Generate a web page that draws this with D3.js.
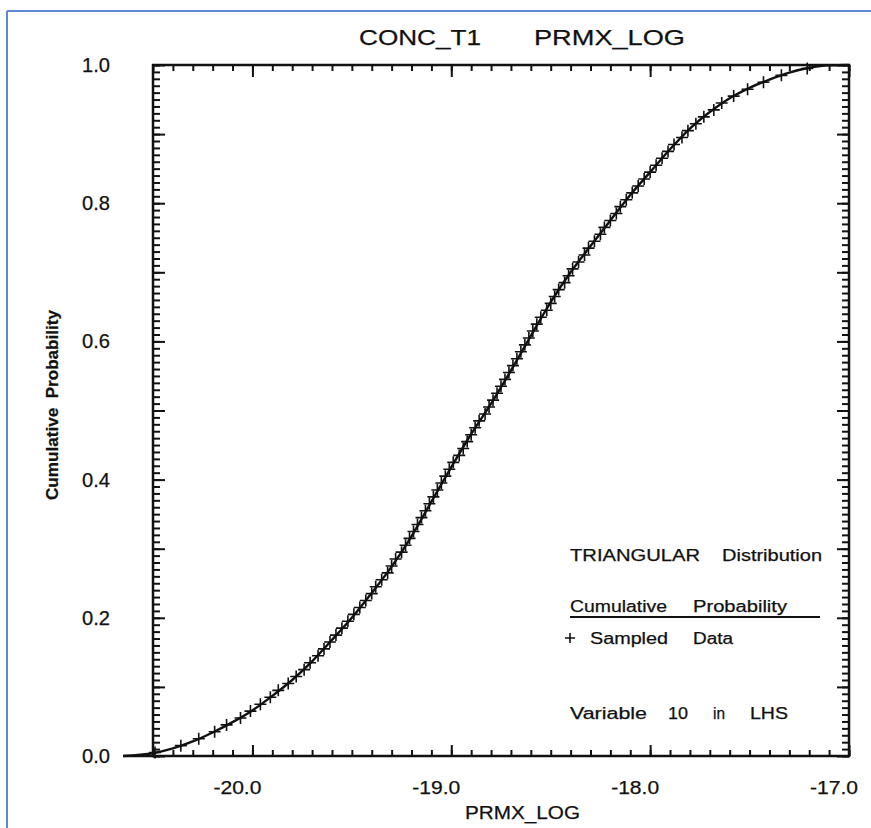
<!DOCTYPE html>
<html>
<head>
<meta charset="utf-8">
<script src="https://cdn.jsdelivr.net/npm/d3@7"></script>
<style>
  html, body { margin: 0; padding: 0; background: #fff; }
  svg { display: block; }
  text { font-family: "Liberation Sans", Arial, Helvetica, sans-serif; fill: #111; stroke: #111; stroke-width: 0.25px; }
</style>
</head>
<body>
<div id="chart"></div>
<script>
// ---- chart data ----
const titleWords = ["CONC_T1", "PRMX_LOG"];
const xAxisTitle = "PRMX_LOG";
const yAxisTitle = "Cumulative  Probability";
const xDomain = [-20.5, -17.0];
const yDomain = [0, 1];
const xMajorTicks = [-20, -19, -18, -17];
const xTickLabels = ["-20.0", "-19.0", "-18.0", "-17.0"];
const yLabelTicks = [0, 0.2, 0.4, 0.6, 0.8, 1.0];
const yTickLabels = ["0.0", "0.2", "0.4", "0.6", "0.8", "1.0"];

// cumulative probability curve of the triangular distribution
const curveX = [-20.65, -20.5, -20.4, -20.3, -20.2, -20.1, -20.0, -19.9, -19.8, -19.7, -19.6,
  -19.5, -19.4, -19.3, -19.2, -19.1, -19.0, -18.9, -18.8, -18.7, -18.6, -18.5, -18.4, -18.3,
  -18.2, -18.1, -18.0, -17.9, -17.8, -17.7, -17.6, -17.5, -17.4, -17.3, -17.2, -17.1, -17.0];
const curveP = [0.000, 0.004, 0.011, 0.021, 0.034, 0.049, 0.066, 0.087, 0.110, 0.137, 0.168,
  0.200, 0.236, 0.274, 0.318, 0.368, 0.418, 0.466, 0.510, 0.558, 0.608, 0.657, 0.700, 0.738,
  0.775, 0.812, 0.845, 0.878, 0.908, 0.932, 0.952, 0.967, 0.979, 0.989, 0.996, 0.9995, 1.000];

// LHS sampled values (sorted) and their cumulative probability
const sampleX = [-20.49, -20.36, -20.27, -20.19, -20.13, -20.06, -20.01, -19.96, -19.91, -19.87,
  -19.82, -19.78, -19.74, -19.71, -19.67, -19.64, -19.61, -19.58, -19.55, -19.52,
  -19.49, -19.46, -19.43, -19.40, -19.38, -19.35, -19.32, -19.30, -19.28, -19.25,
  -19.23, -19.21, -19.19, -19.17, -19.15, -19.13, -19.11, -19.09, -19.07, -19.05,
  -19.03, -19.01, -18.99, -18.96, -18.94, -18.92, -18.90, -18.88, -18.86, -18.83,
  -18.81, -18.79, -18.77, -18.75, -18.73, -18.71, -18.69, -18.67, -18.65, -18.63,
  -18.61, -18.59, -18.57, -18.55, -18.52, -18.50, -18.48, -18.46, -18.43, -18.41,
  -18.39, -18.36, -18.33, -18.31, -18.28, -18.25, -18.23, -18.20, -18.17, -18.15,
  -18.12, -18.09, -18.06, -18.03, -18.00, -17.97, -17.94, -17.91, -17.88, -17.84,
  -17.81, -17.77, -17.73, -17.68, -17.64, -17.58, -17.51, -17.43, -17.34, -17.21];
const sampleP = [0.005, 0.015, 0.025, 0.035, 0.045, 0.055, 0.065, 0.075, 0.085, 0.095,
  0.105, 0.115, 0.125, 0.135, 0.145, 0.155, 0.165, 0.175, 0.185, 0.195,
  0.205, 0.215, 0.225, 0.235, 0.245, 0.255, 0.265, 0.275, 0.285, 0.295,
  0.305, 0.315, 0.325, 0.335, 0.345, 0.355, 0.365, 0.375, 0.385, 0.395,
  0.405, 0.415, 0.425, 0.435, 0.445, 0.455, 0.465, 0.475, 0.485, 0.495,
  0.505, 0.515, 0.525, 0.535, 0.545, 0.555, 0.565, 0.575, 0.585, 0.595,
  0.605, 0.615, 0.625, 0.635, 0.645, 0.655, 0.665, 0.675, 0.685, 0.695,
  0.705, 0.715, 0.725, 0.735, 0.745, 0.755, 0.765, 0.775, 0.785, 0.795,
  0.805, 0.815, 0.825, 0.835, 0.845, 0.855, 0.865, 0.875, 0.885, 0.895,
  0.905, 0.915, 0.925, 0.935, 0.945, 0.955, 0.965, 0.975, 0.985, 0.995];

// legend / annotation words
const legendTitle = ["TRIANGULAR", "Distribution"];
const legendLine = ["Cumulative", "Probability"];
const legendMarker = ["Sampled", "Data"];
const legendNote = ["Variable", "10", "in", "LHS"];

// ---- layout ----
const W = 871, H = 828;
const plot = { left: 153, right: 849, top: 65, bottom: 756 };
const ink = "#111";

const svg = d3.select("#chart").append("svg")
  .attr("width", W).attr("height", H).attr("viewBox", `0 0 ${W} ${H}`);

// page border
svg.append("line").attr("x1", 7).attr("y1", 11).attr("x2", W).attr("y2", 11)
  .attr("stroke", "#5b8ad0").attr("stroke-width", 2);
svg.append("line").attr("x1", 7).attr("y1", 11).attr("x2", 7).attr("y2", H)
  .attr("stroke", "#5b8ad0").attr("stroke-width", 2);

const x = d3.scaleLinear().domain(xDomain).range([plot.left, plot.right]);
const y = d3.scaleLinear().domain(yDomain).range([plot.bottom, plot.top]);

// text fitted to a given width
function word(g, s, px, py, size, len, anchor, weight) {
  const t = g.append("text").attr("x", px).attr("y", py)
    .attr("font-size", size).attr("text-anchor", anchor || "start")
    .text(s);
  if (len) t.attr("textLength", len).attr("lengthAdjust", "spacingAndGlyphs");
  if (weight) t.attr("font-weight", weight);
  return t;
}

const minorX = d3.range(-205, -169, 1).map(v => v / 10);
const minorY = d3.range(0, 101, 1).map(v => v / 100);
const tenthY = d3.range(0, 11, 1).map(v => v / 10);

function styleAxis(w) {
  return g => {
    g.select(".domain").remove();
    g.selectAll(".tick line").attr("stroke", ink).attr("stroke-width", w);
  };
}

// bottom axis (ticks point inward)
svg.append("g").attr("transform", `translate(0,${plot.bottom})`)
  .call(d3.axisBottom(x).tickValues(minorX).tickSize(-6).tickFormat("")).call(styleAxis(2));
svg.append("g").attr("transform", `translate(0,${plot.bottom})`)
  .call(d3.axisBottom(x).tickValues(xMajorTicks).tickSize(-11).tickFormat("")).call(styleAxis(2));
// top axis
svg.append("g").attr("transform", `translate(0,${plot.top})`)
  .call(d3.axisTop(x).tickValues(minorX).tickSize(-6).tickFormat("")).call(styleAxis(2));
svg.append("g").attr("transform", `translate(0,${plot.top})`)
  .call(d3.axisTop(x).tickValues(xMajorTicks).tickSize(-12).tickFormat("")).call(styleAxis(2));
// left axis
svg.append("g").attr("transform", `translate(${plot.left},0)`)
  .call(d3.axisLeft(y).tickValues(minorY).tickSize(-7).tickFormat("")).call(styleAxis(2));
svg.append("g").attr("transform", `translate(${plot.left},0)`)
  .call(d3.axisLeft(y).tickValues(tenthY).tickSize(-12).tickFormat("")).call(styleAxis(2));
// right axis
svg.append("g").attr("transform", `translate(${plot.right},0)`)
  .call(d3.axisRight(y).tickValues(minorY).tickSize(-7).tickFormat("")).call(styleAxis(2));
svg.append("g").attr("transform", `translate(${plot.right},0)`)
  .call(d3.axisRight(y).tickValues(tenthY).tickSize(-12).tickFormat("")).call(styleAxis(2));

// frame
svg.append("rect").attr("x", plot.left).attr("y", plot.top)
  .attr("width", plot.right - plot.left).attr("height", plot.bottom - plot.top)
  .attr("fill", "none").attr("stroke", ink).attr("stroke-width", 2.5);
// baseline extends left of the frame
svg.append("line").attr("x1", x(-20.65)).attr("x2", plot.left)
  .attr("y1", y(0)).attr("y2", y(0)).attr("stroke", ink).attr("stroke-width", 2.5);

// tick labels
const labels = svg.append("g");
xMajorTicks.forEach((v, i) => word(labels, xTickLabels[i], x(v) - 15, 794, 19, 48, "middle"));
yLabelTicks.forEach((v, i) => word(labels, yTickLabels[i], 110, y(v) + 7, 20, 28, "end"));

// titles
word(svg, titleWords[0], 359, 45, 22, 122, "start");
word(svg, titleWords[1], 534, 45, 22, 151, "start");
word(svg, xAxisTitle, 465, 819, 18, 115, "start");
svg.append("text").attr("transform", "translate(58,405) rotate(-90)")
  .attr("text-anchor", "middle").attr("font-size", 17).attr("font-weight", "bold")
  .attr("textLength", 190).attr("lengthAdjust", "spacingAndGlyphs")
  .style("white-space", "pre").text(yAxisTitle);

// curve
const pts = curveX.map((v, i) => [v, curveP[i]]);
svg.append("path").datum(pts)
  .attr("d", d3.line().x(d => x(d[0])).y(d => y(d[1])).curve(d3.curveMonotoneX))
  .attr("fill", "none").attr("stroke", ink).attr("stroke-width", 2.4);

// sampled data markers
const mk = svg.append("g");
sampleX.forEach((v, i) => {
  const cx = x(v), cy = y(sampleP[i]);
  mk.append("path").attr("d", `M${cx - 6},${cy}H${cx + 6}M${cx},${cy - 6}V${cy + 6}`)
    .attr("stroke", ink).attr("stroke-width", 1.6).attr("fill", "none");
});

// legend block
const lg = svg.append("g");
word(lg, legendTitle[0], 570, 561, 16, 130);
word(lg, legendTitle[1], 722, 561, 16, 100);
word(lg, legendLine[0], 570, 612, 16, 97);
word(lg, legendLine[1], 693, 612, 16, 94);
lg.append("line").attr("x1", 570).attr("x2", 820).attr("y1", 617).attr("y2", 617)
  .attr("stroke", ink).attr("stroke-width", 2);
lg.append("path").attr("d", "M565,638H575M570,633V643")
  .attr("stroke", ink).attr("stroke-width", 1.6);
word(lg, legendMarker[0], 590, 644, 16, 78);
word(lg, legendMarker[1], 693, 644, 16, 40);
word(lg, legendNote[0], 570, 719, 16, 77);
word(lg, legendNote[1], 668, 719, 16, 20);
word(lg, legendNote[2], 713, 719, 16, 12);
word(lg, legendNote[3], 750, 719, 16, 38);
</script>
</body>
</html>
